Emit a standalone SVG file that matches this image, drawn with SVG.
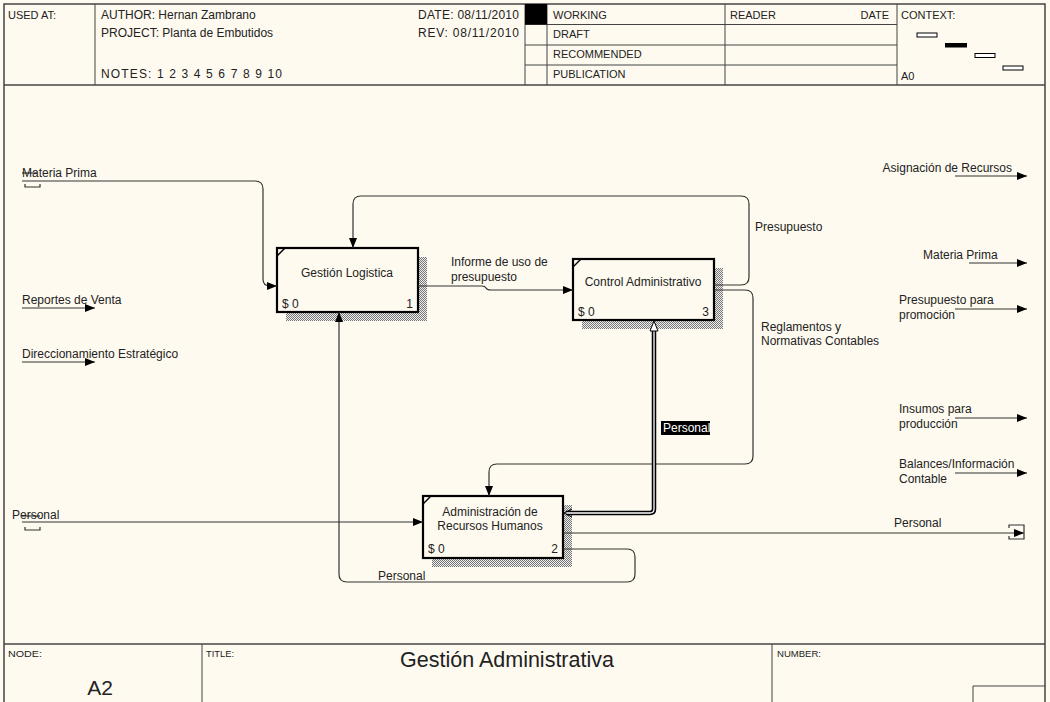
<svg xmlns="http://www.w3.org/2000/svg" width="1050" height="702" viewBox="0 0 1050 702">
<defs>
<style>
text{font-family:"Liberation Sans",Arial,sans-serif;font-size:12px;fill:#222}
.st{font-size:11px}
.sm{font-size:9.5px}
.frame{fill:none;stroke:#444;stroke-width:1.5}
.ln{fill:none;stroke:#444;stroke-width:1}
.box{fill:#FEFAF0;stroke:#000;stroke-width:2.2}
.c{fill:none;stroke:#333;stroke-width:1.2}
.ca{fill:none;stroke:#333;stroke-width:1.2;marker-end:url(#arr)}
.sh{fill:url(#hatch)}
</style>
<pattern id="hatch" width="2" height="2" patternUnits="userSpaceOnUse">
<rect width="2" height="2" fill="#eee"/>
<rect x="0" y="0" width="1" height="1" fill="#777"/>
<rect x="1" y="1" width="1" height="1" fill="#777"/>
</pattern>
<marker id="arr" markerWidth="10" markerHeight="8" refX="10" refY="4" orient="auto" markerUnits="userSpaceOnUse">
<path d="M0,0 L10,4 L0,8 z" fill="#000"/>
</marker>
</defs>
<rect width="1050" height="702" fill="#FEFAF0"/>

<g id="frame">
<path class="frame" d="M4,702 V4 H1045 V702"/>
<line class="frame" x1="4" y1="85" x2="1045" y2="85"/>
<line class="frame" x1="4" y1="644" x2="1045" y2="644"/>
<line class="ln" x1="95" y1="4" x2="95" y2="85"/>
<line class="ln" x1="525" y1="4" x2="525" y2="85"/>
<line class="ln" x1="547" y1="4" x2="547" y2="85"/>
<line class="ln" x1="725" y1="4" x2="725" y2="85"/>
<line class="ln" x1="897" y1="4" x2="897" y2="85"/>
<line class="ln" x1="525" y1="24.5" x2="897" y2="24.5"/>
<line class="ln" x1="525" y1="45" x2="897" y2="45"/>
<line class="ln" x1="525" y1="65" x2="897" y2="65"/>
<rect x="525" y="4" width="22" height="20.5" fill="#000"/>
<text class="st" x="8" y="19">USED AT:</text>
<text x="101" y="19">AUTHOR:  Hernan Zambrano</text>
<text x="101" y="37">PROJECT:  Planta de Embutidos</text>
<text x="101" y="78" textLength="181" lengthAdjust="spacing">NOTES:  1  2  3  4  5  6  7  8  9  10</text>
<text x="418" y="19" textLength="101" lengthAdjust="spacing">DATE:  08/11/2010</text>
<text x="418" y="37" textLength="101" lengthAdjust="spacing">REV:    08/11/2010</text>
<text class="st" x="553" y="19">WORKING</text>
<text class="st" x="553" y="38">DRAFT</text>
<text class="st" x="553" y="58">RECOMMENDED</text>
<text class="st" x="553" y="78">PUBLICATION</text>
<text class="st" x="730" y="19">READER</text>
<text class="st" x="889" y="19" text-anchor="end">DATE</text>
<text class="st" x="901" y="19">CONTEXT:</text>
<text class="st" x="901" y="80">A0</text>
<rect x="917" y="33" width="20" height="4" fill="#fff" stroke="#000" stroke-width="1"/>
<rect x="945" y="43" width="22" height="4.5" fill="#000"/>
<rect x="975" y="53.5" width="20" height="4" fill="#fff" stroke="#000" stroke-width="1"/>
<rect x="1003" y="66" width="20" height="4" fill="#fff" stroke="#000" stroke-width="1"/>
<line class="ln" x1="202" y1="644" x2="202" y2="702"/>
<line class="ln" x1="772" y1="644" x2="772" y2="702"/>
<path class="ln" d="M973,702 V686 H1045"/>
<text class="sm" x="8" y="657" textLength="34" lengthAdjust="spacingAndGlyphs">NODE:</text>
<text class="sm" x="206" y="657" textLength="28" lengthAdjust="spacingAndGlyphs">TITLE:</text>
<text class="sm" x="777" y="657" textLength="44" lengthAdjust="spacingAndGlyphs">NUMBER:</text>
<text x="507" y="667" text-anchor="middle" style="font-size:21.5px">Gestión Administrativa</text>
<text x="100" y="695" text-anchor="middle" style="font-size:21px">A2</text>
</g>

<g id="node1">
<path class="sh" d="M418,257 H427 V321 H286 V312 H418 z"/>
<rect class="box" x="277" y="248" width="141" height="64"/>
<line x1="277" y1="256" x2="285" y2="248" stroke="#000" stroke-width="1.5"/>
<text x="347" y="277" text-anchor="middle">Gestión Logistica</text>
<text x="282" y="308">$ 0</text>
<text x="413" y="308" text-anchor="end">1</text>
</g>

<g id="node3">
<path class="sh" d="M714,268 H723 V329 H582 V320 H714 z"/>
<rect class="box" x="573" y="259" width="141" height="61"/>
<line x1="573" y1="267" x2="581" y2="259" stroke="#000" stroke-width="1.5"/>
<text x="643" y="286" text-anchor="middle">Control Administrativo</text>
<text x="578" y="316">$ 0</text>
<text x="709" y="316" text-anchor="end">3</text>
</g>

<g id="node2">
<path class="sh" d="M563,505 H572 V567 H432 V558 H563 z"/>
<rect class="box" x="423" y="496" width="140" height="62"/>
<line x1="423" y1="504" x2="431" y2="496" stroke="#000" stroke-width="1.5"/>
<text x="490" y="516" text-anchor="middle">Administración de</text>
<text x="490" y="530" text-anchor="middle">Recursos Humanos</text>
<text x="428" y="553">$ 0</text>
<text x="558" y="553" text-anchor="end">2</text>
</g>

<g id="connectors">
<!-- Materia Prima in -->
<path class="ca" d="M22,181 H255 Q263,181 263,189 V279 Q263,286 270,286 H277"/>
<line class="c" x1="22" y1="173" x2="37" y2="173"/>
<path class="c" d="M25,184 V187 H40 V184"/>
<text x="22" y="177">Materia Prima</text>
<!-- Reportes de Venta -->
<path class="ca" d="M22,308 H95"/>
<text x="22" y="304">Reportes de Venta</text>
<!-- Direccionamiento -->
<path class="ca" d="M22,362 H95"/>
<text x="22" y="358">Direccionamiento Estratégico</text>
<!-- Informe de uso de presupuesto -->
<path class="ca" d="M418,286 H482 Q485,286 486,288 Q487,290 491,290 H573"/>
<text x="451" y="266">Informe de uso de</text>
<text x="451" y="281">presupuesto</text>
<!-- Presupuesto -->
<path class="ca" d="M714,285 H741 Q749,285 749,277 V204 Q749,196 741,196 H361 Q353,196 353,204 V248"/>
<text x="755" y="231">Presupuesto</text>
<!-- Reglamentos -->
<path class="ca" d="M714,290 H745 Q753,290 753,298 V456 Q753,464 745,464 H497 Q489,464 489,472 V496"/>
<text x="761" y="331">Reglamentos y</text>
<text x="761" y="345">Normativas Contables</text>
<!-- Personal double (mechanism) -->
<path d="M566,513 H650 Q654,513 654,509 V330" fill="none" stroke="#000" stroke-width="4.5"/>
<path d="M566,513 H650 Q654,513 654,509 V330" fill="none" stroke="#fff" stroke-width="1.3"/>
<path d="M654,321 L650,331 L658,331 z" fill="#fff" stroke="#000" stroke-width="1"/>
<path d="M572,509 L564,513 L572,517" fill="none" stroke="#000" stroke-width="1"/>
<rect x="661" y="421" width="49" height="14" fill="#000"/>
<text x="663" y="432" style="fill:#fff">Personal</text>
<!-- Personal input -->
<path class="ca" d="M22,522 H423"/>
<line class="c" x1="22" y1="516" x2="40" y2="516"/>
<path class="c" d="M25,527 V530 H40 V527"/>
<text x="12" y="519">Personal</text>
<!-- Personal output -->
<path class="ca" d="M563,533 H1024"/>
<path class="c" d="M1009,528 V525 H1024 V539 H1009 V536"/>
<text x="894" y="527">Personal</text>
<!-- Personal feedback -->
<path class="ca" d="M563,549 H627 Q635,549 635,557 V574 Q635,582 627,582 H347 Q339,582 339,574 V312"/>
<text x="378" y="580">Personal</text>
<!-- Right outputs -->
<path class="ca" d="M955,176 H1027"/>
<text x="1012" y="172" text-anchor="end">Asignación de Recursos</text>
<path class="ca" d="M969,263 H1027"/>
<text x="923" y="259">Materia Prima</text>
<path class="ca" d="M955,309 H1027"/>
<text x="899" y="304">Presupuesto para</text>
<text x="899" y="319">promoción</text>
<path class="ca" d="M955,418 H1027"/>
<text x="899" y="413">Insumos para</text>
<text x="899" y="428">producción</text>
<path class="ca" d="M955,473 H1027"/>
<text x="899" y="468">Balances/Información</text>
<text x="899" y="483">Contable</text>
</g>
</svg>
